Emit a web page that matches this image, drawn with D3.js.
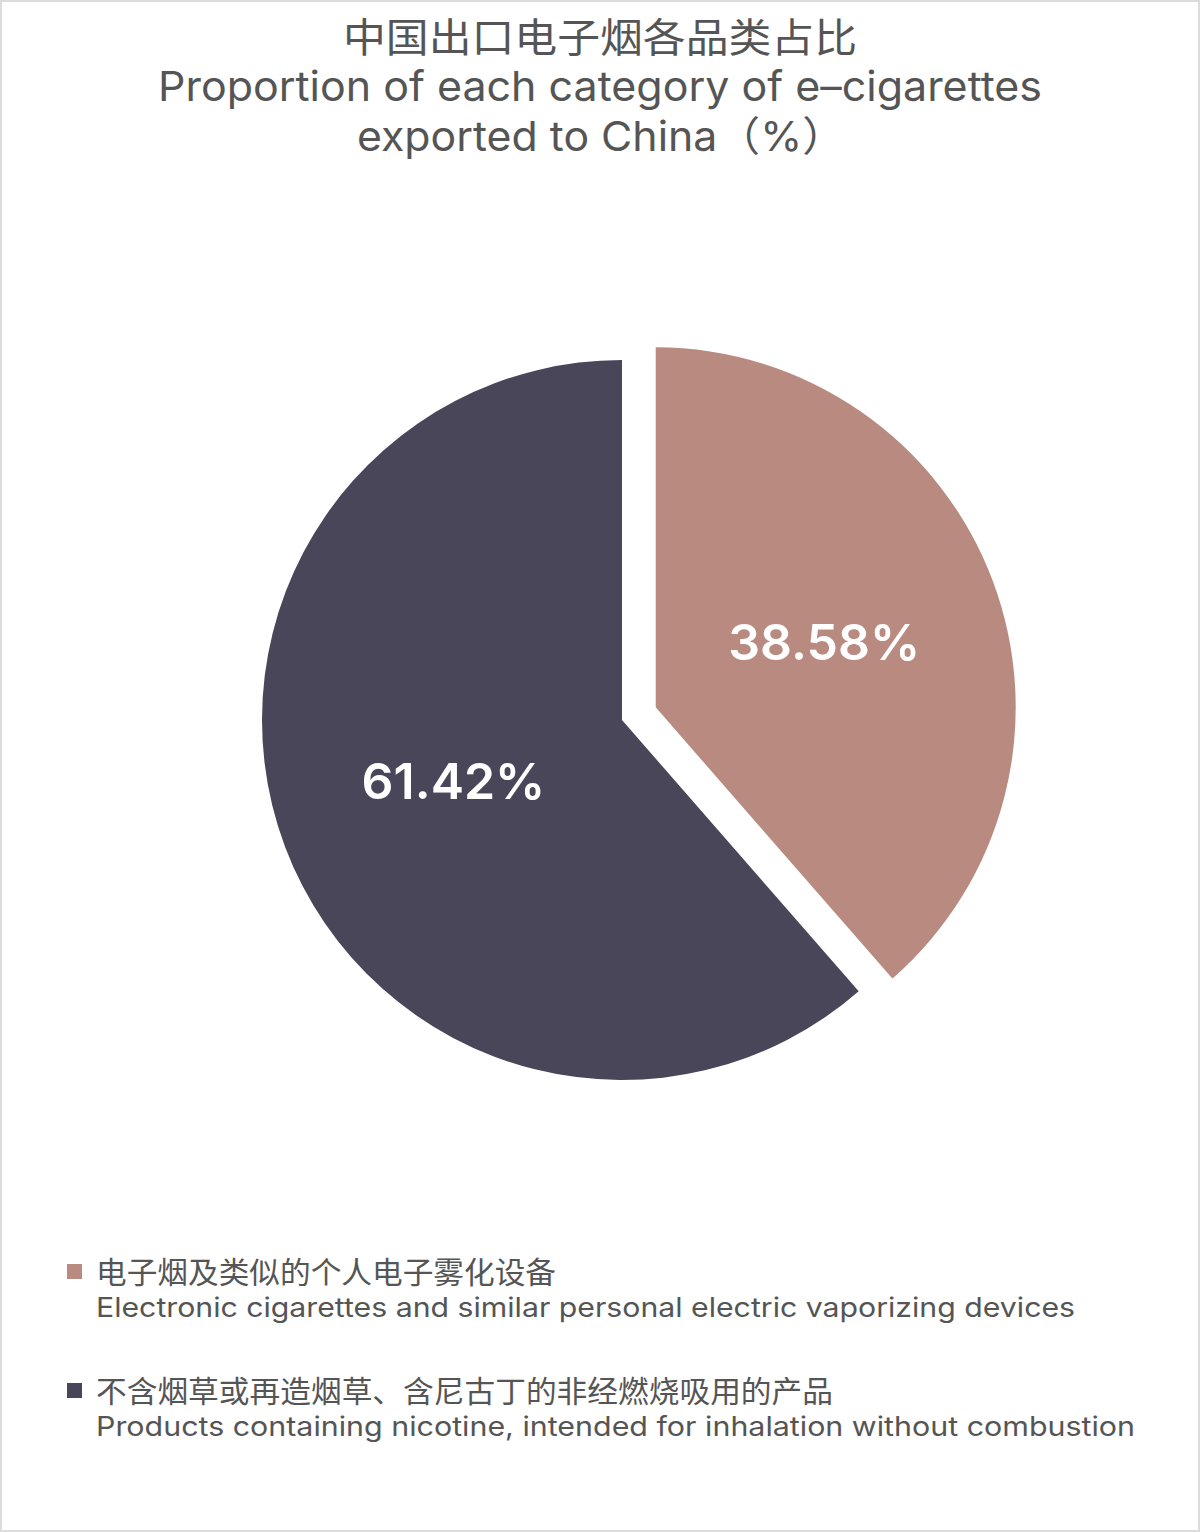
<!DOCTYPE html>
<html>
<head>
<meta charset="utf-8">
<script src="https://cdn.jsdelivr.net/npm/d3@7"></script>
<style>
  body { margin: 0; background: #fff; }
  svg { display: block; }
</style>
</head>
<body>
<svg></svg>
<script>
const width = 1200,
  height = 1532

const categoriesZh = ["电子烟及类似的个人电子雾化设备", "不含烟草或再造烟草、含尼古丁的非经燃烧吸用的产品"]
const categoriesEn = [
  "Electronic cigarettes and similar personal electric vaporizing devices",
  "Products containing nicotine, intended for inhalation without combustion",
]
const shares = [38.58, 61.42]
const colors = ["#b98a80", "#4a4659"]
const titleLines = ["中国出口电子烟各品类占比", "Proportion of each category of e–cigarettes", "exported to China（%）"]

const cjk = "'Noto Sans CJK SC', 'Noto Sans', sans-serif"
const latin = "Inter, 'Noto Sans CJK SC', sans-serif"
const svg = d3.select("svg").attr("width", width).attr("height", height)

// frame
svg.append("rect")
  .attr("x", 1).attr("y", 1)
  .attr("width", width - 2).attr("height", height - 2)
  .attr("fill", "#fff").attr("stroke", "#dcdcdc").attr("stroke-width", 2)

// title, squeezed like the original condensed face
const titleW = [514, 884, 488]
const titleY = [52, 101, 151]
svg.append("g").selectAll("text")
  .data(titleLines)
  .join("text")
  .attr("x", (d, i) => i === 2 ? 601 : 600)
  .attr("y", (d, i) => titleY[i])
  .attr("text-anchor", "middle")
  .attr("font-family", (d, i) => i === 0 ? cjk : latin)
  .attr("font-size", (d, i) => i === 0 ? 40 : 41)
  .attr("fill", "#555")
  .attr("textLength", (d, i) => titleW[i])
  .attr("lengthAdjust", "spacingAndGlyphs")
  .text(d => d)

// pie
const cx = 622, cy = 720, r = 360, explode = 36
const pie = d3.pie().sort(null).value(d => d)
const arc = d3.arc().innerRadius(0).outerRadius(r)
const labelArc = d3.arc().innerRadius(r / 2).outerRadius(r / 2)
const arcs = pie(shares)

const offset = (d, i) => {
  if (i !== 0) return [0, 0]
  const a = (d.startAngle + d.endAngle) / 2
  return [Math.sin(a) * explode, -Math.cos(a) * explode]
}

const g = svg.append("g").attr("transform", `translate(${cx},${cy})`)
const slices = g.selectAll("g.slice")
  .data(arcs)
  .join("g")
  .attr("class", "slice")
  .attr("transform", (d, i) => `translate(${offset(d, i)})`)

slices.append("path")
  .attr("d", arc)
  .attr("fill", (d, i) => colors[i])

slices.append("text")
  .attr("transform", d => `translate(${labelArc.centroid(d)})`)
  .attr("dy", -2)
  .attr("text-anchor", "middle")
  .attr("dominant-baseline", "central")
  .attr("font-family", latin)
  .attr("font-size", 50)
  .attr("font-weight", 600)
  .attr("fill", "#fff")
  .text(d => d.value.toFixed(2) + "%")

// legend
const legY = [1272, 1391]
const legend = svg.append("g").selectAll("g")
  .data(shares)
  .join("g")
  .attr("transform", (d, i) => `translate(0,${legY[i]})`)

legend.append("rect")
  .attr("x", 67).attr("y", -8)
  .attr("width", 15).attr("height", 15)
  .attr("fill", (d, i) => colors[i])

legend.append("text")
  .attr("x", 96).attr("y", 11)
  .attr("font-family", cjk)
  .attr("font-size", 30)
  .attr("fill", "#555")
  .attr("textLength", (d, i) => [460, 737][i])
  .attr("lengthAdjust", "spacingAndGlyphs")
  .text((d, i) => categoriesZh[i])

legend.append("text")
  .attr("x", 96).attr("y", 45)
  .attr("font-family", latin)
  .attr("font-size", 27)
  .attr("fill", "#555")
  .attr("textLength", (d, i) => [979, 1039][i])
  .attr("lengthAdjust", "spacingAndGlyphs")
  .text((d, i) => categoriesEn[i])
</script>
</body>
</html>
